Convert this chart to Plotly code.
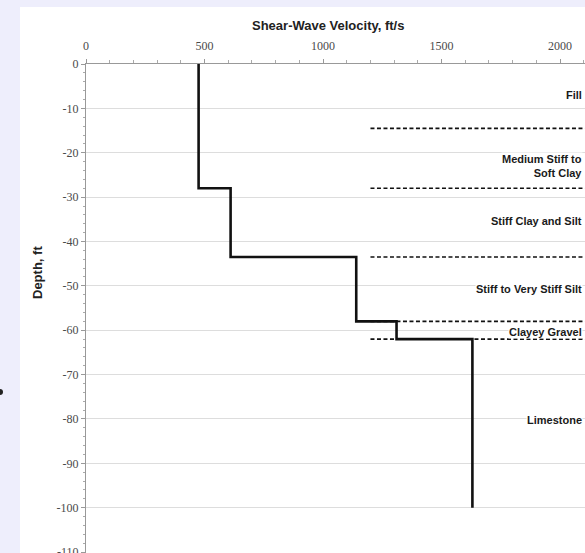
import plotly.graph_objects as go

# Data
velocity = [475, 610, 1140, 1310, 1630, 1630]          # ft/s
depth = [0, -28, -43.5, -58, -62, -100]               # ft
boundary_depths = [-14.5, -28, -43.5, -58, -62]
boundary_start = 1200
layer_names = ["Fill", "Medium Stiff to<br>Soft Clay", "Stiff Clay and Silt",
               "Stiff to Very Stiff Silt", "Clayey Gravel", "Limestone"]
layer_label_depths = [-7, -23, -35.4, -50.6, -60.4, -80.2]
x_ticks = [0, 500, 1000, 1500, 2000]
y_ticks = [0, -10, -20, -30, -40, -50, -60, -70, -80, -90, -100, -110]
y_ticktext = ["0", "-10", "-20", "-30", "-40", "-50", "-60", "-70", "-80", "-90", "-100", "-110"]

W, H = 585, 553
L, R, T, B = 86, 0, 64, 0
pw, ph = W - L - R, H - T - B
def px(x):
    return (x - L) / pw
def py(y):
    return (H - B - y) / ph

XMAX = 2105
YMIN = -110.2

fig = go.Figure()
fig.add_trace(go.Scatter(x=velocity, y=depth, mode="lines", line_shape="vh",
                         line=dict(color="#111111", width=2.6), showlegend=False,
                         hoverinfo="skip"))

shapes = [
    dict(type="rect", xref="paper", yref="paper", x0=px(20), x1=px(W + 5), y0=py(H + 5), y1=py(7),
         fillcolor="white", line=dict(width=0), layer="below"),
    dict(type="circle", xref="paper", yref="paper", x0=px(-3), x1=px(3), y0=py(395), y1=py(389),
         fillcolor="#222222", line=dict(width=0)),
]
for d in boundary_depths:
    shapes.append(dict(type="line", xref="x", yref="y", x0=boundary_start, x1=XMAX, y0=d, y1=d,
                       line=dict(color="#111111", width=1.6, dash="4px,2.5px"), layer="above"))

annotations = []
for name, d in zip(layer_names, layer_label_depths):
    annotations.append(dict(x=1, xref="paper", y=d, yref="y", text="<b>" + name + "</b>", showarrow=False,
                            xanchor="right", yanchor="middle", xshift=-2, align="right",
                            bgcolor="white", borderpad=0,
                            font=dict(family="Arial, Liberation Sans, sans-serif", size=11, color="#1a1a1a")))
annotations.append(dict(x=px(328), y=py(25), xref="paper", yref="paper",
                        text="<b>Shear-Wave Velocity, ft/s</b>", showarrow=False,
                        xanchor="center", yanchor="middle",
                        font=dict(family="Arial, Liberation Sans, sans-serif", size=13, color="#222222")))
annotations.append(dict(x=px(37), y=py(273), xref="paper", yref="paper",
                        text="<b>Depth, ft</b>", showarrow=False, textangle=-90,
                        xanchor="center", yanchor="middle",
                        font=dict(family="Arial, Liberation Sans, sans-serif", size=13, color="#222222")))

tickfont = dict(family="Liberation Serif, Times New Roman, serif", size=12, color="#4a4a4a")
fig.update_layout(
    width=W, height=H,
    margin=dict(l=L, r=R, t=T, b=B, autoexpand=False),
    paper_bgcolor="#eeeefc", plot_bgcolor="white",
    shapes=shapes, annotations=annotations, showlegend=False,
    xaxis=dict(range=[0, XMAX], side="top", tickvals=x_ticks, showgrid=False, zeroline=False,
               showline=True, linecolor="#999999", linewidth=1.2, automargin=False,
               ticks="outside", ticklen=4, tickcolor="#999999", ticklabelstandoff=4,
               minor=dict(dtick=100, ticks="outside", ticklen=3, tickcolor="#aaaaaa"),
               tickfont=tickfont, fixedrange=True),
    yaxis=dict(range=[YMIN, 0], tickvals=y_ticks, ticktext=y_ticktext, showgrid=True,
               gridcolor="#dddddd", gridwidth=1, zeroline=False, automargin=False,
               showline=True, linecolor="#999999", linewidth=1.2,
               ticks="outside", ticklen=4, tickcolor="#999999", ticklabeloverflow="allow",
               minor=dict(dtick=2, ticks="outside", ticklen=2, tickcolor="#aaaaaa", showgrid=False),
               tickfont=tickfont, fixedrange=True),
)
fig.write_html("out.html", config={"displayModeBar": False},
               post_script="document.body.style.margin='0';document.body.style.overflow='hidden';"
                           "document.body.style.background='#eeeefc';")
